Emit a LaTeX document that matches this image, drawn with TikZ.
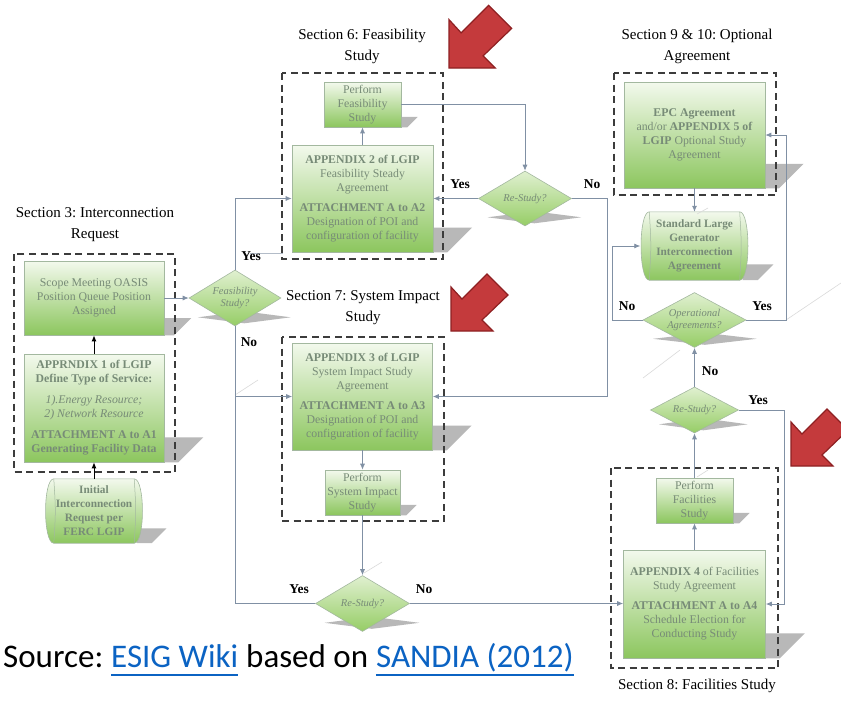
\documentclass[tikz,border=0pt]{standalone}
\usepackage{fontspec}
\setmainfont{Liberation Serif}
\newfontfamily\srcfont{Carlito}
\usetikzlibrary{arrows.meta,shapes.geometric,calc}
\frenchspacing
\definecolor{gtop}{HTML}{F3F9ED}
\definecolor{gbot}{HTML}{8CC65E}
\definecolor{dtop}{HTML}{E0F0D0}
\definecolor{dbot}{HTML}{96CD66}
\definecolor{gline}{HTML}{A3B89F}
\definecolor{gtext}{HTML}{778B77}
\definecolor{conncol}{HTML}{8090A4}
\definecolor{shd}{HTML}{B8B8B8}
\definecolor{faint}{HTML}{DADADA}
\definecolor{redfill}{HTML}{C43A3C}
\definecolor{reddraw}{HTML}{8E2022}
\definecolor{dashc}{HTML}{3C3C3C}
\definecolor{linkblue}{HTML}{0B63C3}
\pgfdeclarelayer{bg}
\pgfsetlayers{bg,main}
\tikzset{
 gbox/.style={rectangle, draw=gline, line width=0.6pt, top color=gtop, bottom color=gbot, align=center, inner sep=1pt, text=gtext, font=\fontsize{11.8}{14}\selectfont},
 dia/.style={diamond, draw=gline, line width=0.6pt, top color=dtop, bottom color=dbot, inner sep=0pt},
 diatext/.style={align=center, text=gtext, inner sep=0pt, font=\fontsize{10.5}{12.5}\selectfont\itshape},
 cylnode/.style={rectangle, align=center, inner sep=0pt, text=gtext, font=\fontsize{11.3}{14}\selectfont\bfseries},
 cylshape/.style={draw=gline, line width=0.6pt, top color=gtop, bottom color=gbot},
 cylin/.style={draw=gline, line width=0.5pt},
 secbox/.style={draw=dashc, line width=1.3pt, dash pattern=on 7pt off 4.5pt},
 sectitle/.style={align=center, inner sep=0pt, font=\fontsize{15}{21}\selectfont},
 conn/.style={draw=conncol, line width=0.8pt, -{Latex[length=6pt,width=5pt]}},
 connplain/.style={draw=conncol, line width=0.8pt},
 blk/.style={draw=black, line width=1pt, -{Latex[length=6pt,width=5pt]}},
 yn/.style={font=\fontsize{13.5}{14}\selectfont\bfseries, inner sep=0pt},
 boxshd/.style={fill=shd},
 faintline/.style={draw=faint, line width=0.6pt},
 redarrow/.style={fill=redfill, draw=reddraw, line width=1.2pt, line join=miter},
 srcstyle/.style={anchor=base west, inner sep=0pt, font=\srcfont\fontsize{33}{36}\selectfont},
}
\newcommand\boxshadow[1]{%
 \fill[boxshd] let \p1=(#1.south east), \p2=(#1.north east) in
  (\x1-6pt,{\y1+0.23*(\y2-\y1)}) -- ({\x1+0.36*(\y2-\y1)},{\y1+0.23*(\y2-\y1)}) -- ({\x1+0.13*(\y2-\y1)},\y1) -- (\x1-6pt,\y1) -- cycle;}
\newcommand\diashadow[1]{%
 \fill[boxshd] let \p1=(#1.south), \p2=(#1.east), \p3=(#1.west) in
  ({\x1-0.4*(\x2-\x3)},\y1+9pt) -- ({\x1+0.1*(\x2-\x3)},\y1+15pt) -- ({\x1+0.6*(\x2-\x3)},\y1+9pt) -- ({\x1+0.1*(\x2-\x3)},\y1+3pt) -- cycle;}
\newcommand\cylbody[1]{%
 \path[cylshape] let \p1=(#1.north west), \p2=(#1.south east) in
  (\x1+9pt,\y1) -- (\x2-9pt,\y1) .. controls (\x2+2pt,\y1) and (\x2+2pt,\y2) .. (\x2-9pt,\y2) -- (\x1+9pt,\y2) .. controls (\x1-2pt,\y2) and (\x1-2pt,\y1) .. (\x1+9pt,\y1) -- cycle;
 \draw[cylin] let \p1=(#1.north west), \p2=(#1.south east) in
  (\x1+9pt,\y1) .. controls (\x1+11pt,{(\y1+\y2)/2}) .. (\x1+9pt,\y2)
  (\x2-9pt,\y1) .. controls (\x2-7pt,{(\y1+\y2)/2}) .. (\x2-9pt,\y2);}
\newcommand\redarr[3]{%
 \draw[redarrow] (#1,#2) -- ++(0,{-44*#3}) -- ++({11*#3},{12*#3}) -- ++({25*#3},{-25*#3}) -- ++({21*#3},{21*#3}) -- ++({-26*#3},{25*#3}) -- ++({11*#3},{11*#3}) -- cycle;}

\begin{document}
\begin{tikzpicture}[x=1pt,y=-1pt]
\useasboundingbox (0,0) rectangle (841,705);
\clip (0,0) rectangle (841,705);

% ---- Section titles
\node[sectitle] (t3) at (95,225) {Section 3: Interconnection\\Request};
\node[sectitle] (t6) at (362,46) {Section 6: Feasibility\\Study};
\node[sectitle] (t7) at (363,308) {Section 7: System Impact\\Study};
\node[sectitle] (t9) at (697,46) {Section 9 \& 10: Optional\\Agreement};
\node[sectitle] (t8) at (697,686) {Section 8: Facilities Study};

% ---- Section 3
\node[gbox, minimum width=140pt, minimum height=74pt] (scope) at (94,298) {Scope Meeting OASIS\\Position Queue Position\\Assigned};
\node[gbox, minimum width=140pt, minimum height=108pt] (app1) at (94,408) {\textbf{APPRNDIX 1 of LGIP}\\\textbf{Define Type of Service:}\\[7pt]\textit{1).Energy Resource;}\\\textit{2) Network Resource}\\[7pt]\textbf{ATTACHMENT A to A1}\\\textbf{Generating Facility Data}};
\node[cylnode, minimum width=98pt, minimum height=64pt] (init) at (94,511) {Initial\\Interconnection\\Request per\\FERC LGIP};
\node[dia, minimum width=92pt, minimum height=56pt] (feas) at (235,298) {};
\node[diatext] (feast) at (feas) {Feasibility\\Study?};

% ---- Section 6
\node[gbox, minimum width=77pt, minimum height=45pt] (pfeas) at (362.5,104.5) {Perform\\Feasibility\\Study};
\node[gbox, minimum width=141pt, minimum height=107pt] (app2) at (362.5,198.5) {\textbf{APPENDIX 2 of LGIP}\\Feasibility Steady\\Agreement\\[6pt]\textbf{ATTACHMENT A to A2}\\Designation of POI and\\configuration of facility};
\node[dia, minimum width=93pt, minimum height=55pt] (rs6) at (525,198.5) {};
\node[diatext] (rs6t) at (rs6) {Re-Study?};

% ---- Section 7
\node[gbox, minimum width=140pt, minimum height=107pt] (app3) at (362.5,396.5) {\textbf{APPENDIX 3 of LGIP}\\System Impact Study\\Agreement\\[6pt]\textbf{ATTACHMENT A to A3}\\Designation of POI and\\configuration of facility};
\node[gbox, minimum width=75pt, minimum height=45pt] (psi) at (362.5,492.5) {Perform\\System Impact\\Study};
\node[dia, minimum width=94pt, minimum height=56pt] (rs7) at (362.5,603.5) {};
\node[diatext] (rs7t) at (rs7) {Re-Study?};

% ---- Section 9 & 10
\node[gbox, minimum width=141pt, minimum height=106pt] (epc) at (694.5,135) {\textbf{EPC Agreement}\\and/or \textbf{APPENDIX 5 of}\\\textbf{LGIP} Optional Study\\Agreement};
\node[cylnode, minimum width=108pt, minimum height=68pt] (std) at (694.5,246) {Standard Large\\Generator\\Interconnection\\Agreement};
\node[dia, minimum width=103pt, minimum height=55pt] (oper) at (694.5,320) {};
\node[diatext] (opert) at (oper) {Operational\\Agreements?};

% ---- Section 8
\node[dia, minimum width=88pt, minimum height=46pt] (rs8) at (694.5,410) {};
\node[diatext] (rs8t) at (rs8) {Re-Study?};
\node[gbox, minimum width=77pt, minimum height=45pt] (pfac) at (694.5,500.5) {Perform\\Facilities\\Study};
\node[gbox, minimum width=142pt, minimum height=108pt] (app4) at (694.5,604) {\textbf{APPENDIX 4} of Facilities\\Study Agreement\\[6pt]\textbf{ATTACHMENT A to A4}\\Schedule Election for\\Conducting Study};

% ---- background: shadows, cylinder bodies, faint lines
\begin{pgfonlayer}{bg}
\fill[white] (0,0) rectangle (841,705);
\foreach \b in {scope,app1,pfeas,app2,app3,psi,epc,pfac,app4,init,std}{\boxshadow{\b}}
\foreach \d in {feas,rs6,rs7,oper,rs8}{\diashadow{\d}}
\cylbody{init}
\cylbody{std}
\draw[faintline] (235,395) -- (258,380);
\draw[faintline] (786,320) -- (841,283);
\draw[faintline] (643,378) -- (680,350);
\draw[faintline] (364,573) -- (382,562);
\draw[faintline] (697,477) -- (708,470);
\draw[faintline] (697,214) -- (708,208);
\draw[draw=conncol!60, line width=0.7pt] (250,253) -- (283,253);
\end{pgfonlayer}

% ---- dashed section frames
\draw[secbox] (14,254) rectangle (175,472);
\draw[secbox] (282,73) rectangle (443,259);
\draw[secbox] (282,337) rectangle (444,521);
\draw[secbox] (614,73) rectangle (776,195);
\draw[secbox] (611,468) rectangle (778,668);

% ---- connectors
\draw[blk] (init) -- (app1);
\draw[blk] (app1) -- (scope);
\draw[conn] (scope) -- (feas);
\draw[conn] (feas.north) |- (app2.west);
\draw[conn] (feas.south) |- (app3.west);
\draw[connplain] (rs7.west) -| (feas.south);
\draw[conn] (app2) -- (pfeas);
\draw[conn] (pfeas.east) -| (rs6.north);
\draw[conn] (rs6.west) -- (app2.east);
\draw[conn] (rs6.east) -- ++(36,0) |- (app3.east);
\draw[conn] (app3) -- (psi);
\draw[conn] (psi) -- (rs7);
\draw[conn] (rs7.east) -- (rs7.east -| app4.west);
\draw[conn] (app4) -- (pfac);
\draw[conn] (pfac) -- (rs8);
\draw[conn] (rs8) -- (oper);
\draw[conn] (rs8.east) -- ++(46,0) |- (app4.east);
\draw[conn] (oper.east) -- ++(40,0) |- (epc.east);
\draw[conn] (oper.west) -- ++(-30,0) |- (std.west);
\draw[conn] (epc) -- (std);

% ---- Yes / No labels
\node[yn] (y1) at (251,256) {Yes};
\node[yn] (n1) at (249,342) {No};
\node[yn] (y2) at (460,184) {Yes};
\node[yn] (n2) at (592,184) {No};
\node[yn] (y3) at (299,589) {Yes};
\node[yn] (n3) at (424,589) {No};
\node[yn] (n4) at (627,306) {No};
\node[yn] (y4) at (762,306) {Yes};
\node[yn] (n5) at (710,371) {No};
\node[yn] (y5) at (758,400) {Yes};

% ---- red pointer arrows
\redarr{449}{68}{1.1}
\redarr{451}{331}{1}
\redarr{791}{466}{1}

% ---- source line
\node[srcstyle] (src1) at (3,667) {Source:};
\node[srcstyle, text=linkblue] (src2) at ([xshift=7.5pt]src1.base east) {ESIG Wiki};
\node[srcstyle] (src3) at ([xshift=7.5pt]src2.base east) {based on};
\node[srcstyle, text=linkblue] (src4) at ([xshift=7.5pt]src3.base east) {SANDIA (2012)};
\draw[linkblue, line width=1.7pt] ([yshift=-8pt]src2.base west) -- ([yshift=-8pt]src2.base east);
\draw[linkblue, line width=1.7pt] ([yshift=-8pt]src4.base west) -- ([yshift=-8pt]src4.base east);
\end{tikzpicture}
\end{document}
